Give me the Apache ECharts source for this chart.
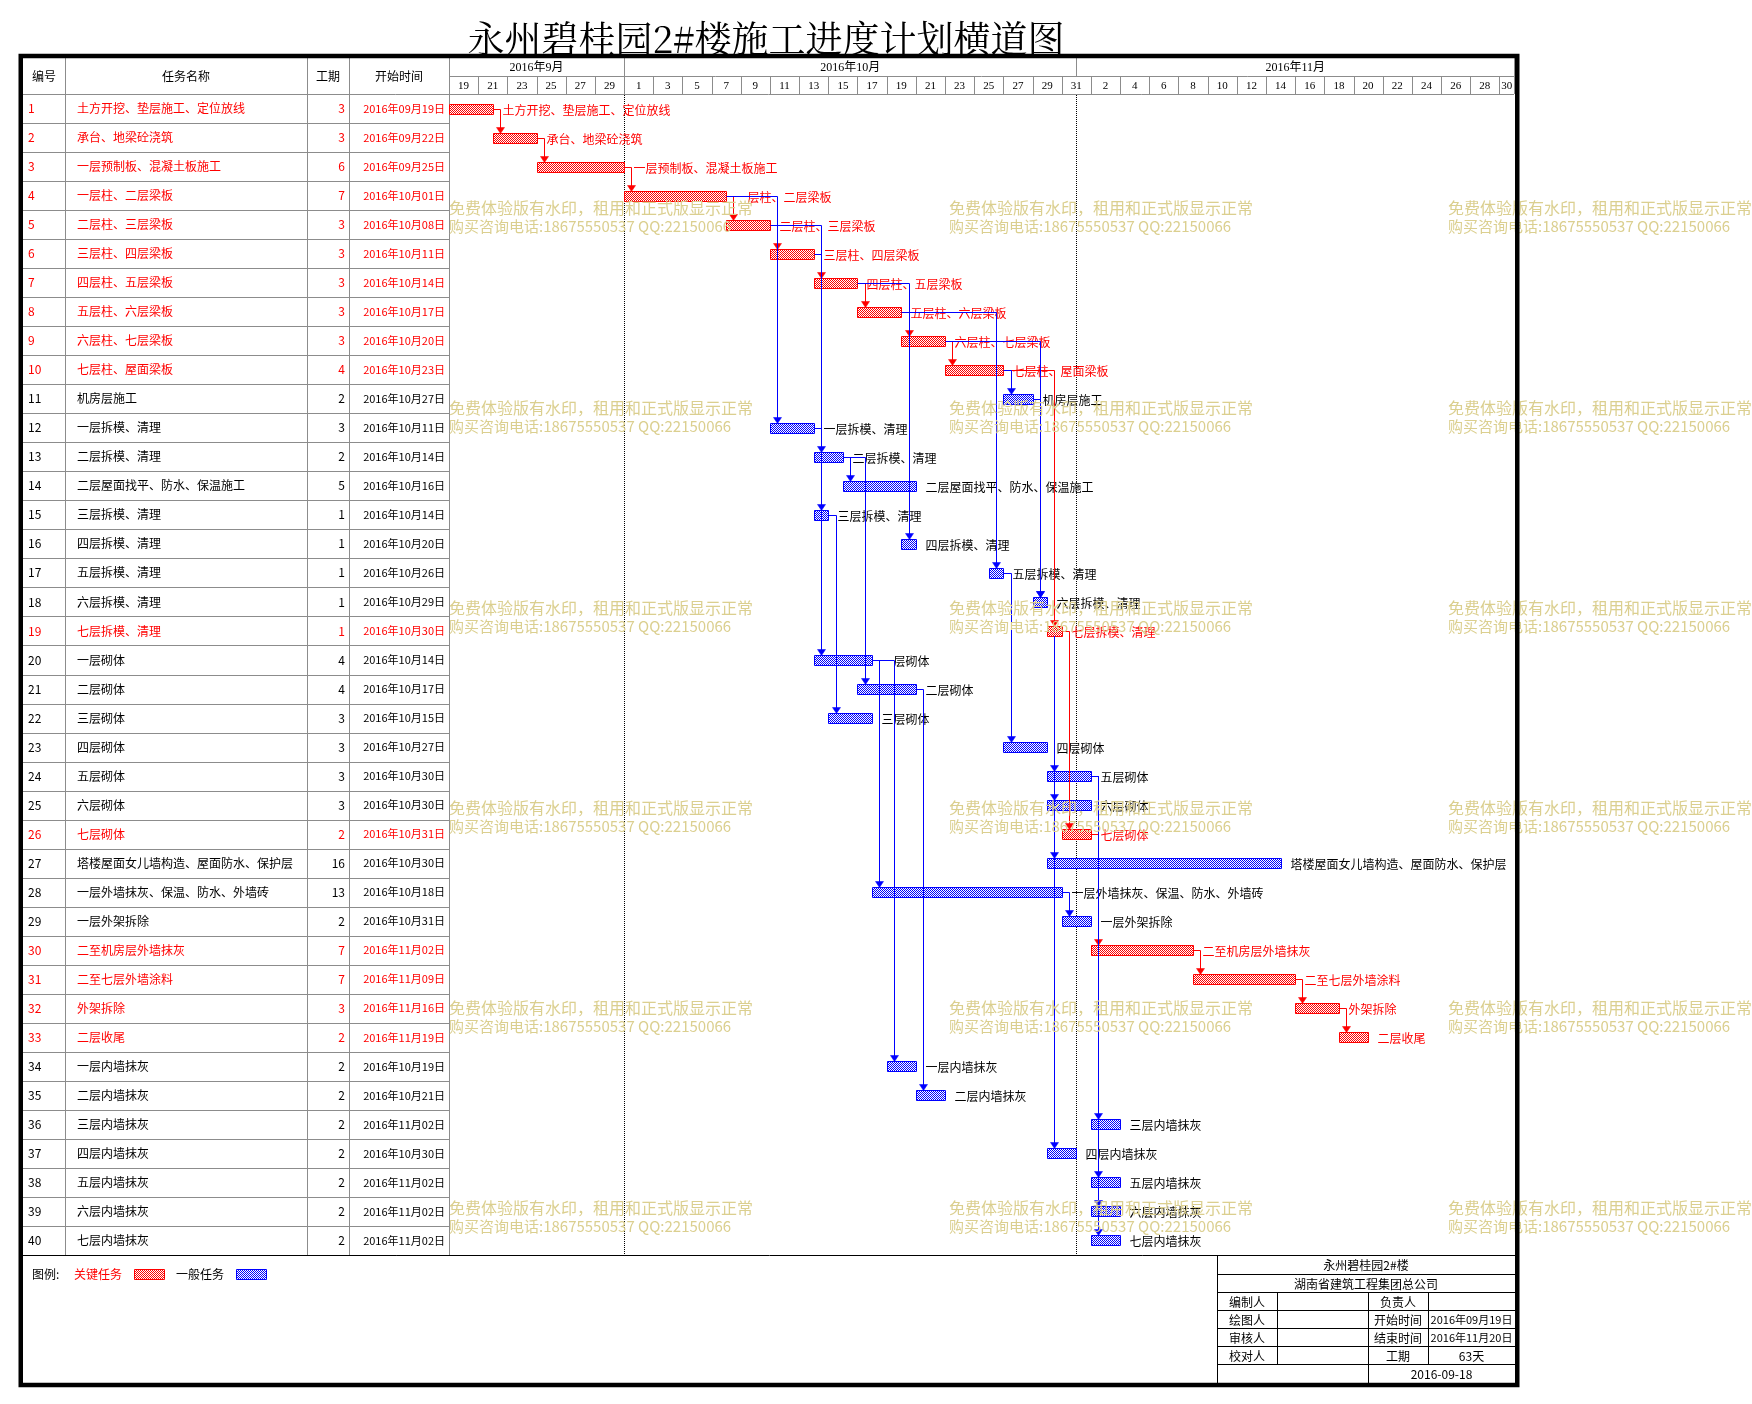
<!DOCTYPE html>
<html><head><meta charset="utf-8">
<script src="https://cdn.jsdelivr.net/npm/echarts@6/dist/echarts.min.js"></script>
<style>html,body{margin:0;padding:0;background:#fff}#c{width:1752px;height:1404px}</style>
</head><body><div id="c"></div>
<script>
// ---------------- DATA ----------------
const chartTitle = '永州碧桂园2#楼施工进度计划横道图';
const headerNames = ['编号', '任务名称', '工期', '开始时间'];
const taskNames = [
  '土方开挖、垫层施工、定位放线', '承台、地梁砼浇筑', '一层预制板、混凝土板施工', '一层柱、二层梁板',
  '二层柱、三层梁板', '三层柱、四层梁板', '四层柱、五层梁板', '五层柱、六层梁板', '六层柱、七层梁板',
  '七层柱、屋面梁板', '机房层施工', '一层拆模、清理', '二层拆模、清理', '二层屋面找平、防水、保温施工',
  '三层拆模、清理', '四层拆模、清理', '五层拆模、清理', '六层拆模、清理', '七层拆模、清理',
  '一层砌体', '二层砌体', '三层砌体', '四层砌体', '五层砌体', '六层砌体', '七层砌体',
  '塔楼屋面女儿墙构造、屋面防水、保护层', '一层外墙抹灰、保温、防水、外墙砖', '一层外架拆除',
  '二至机房层外墙抹灰', '二至七层外墙涂料', '外架拆除', '二层收尾',
  '一层内墙抹灰', '二层内墙抹灰', '三层内墙抹灰', '四层内墙抹灰', '五层内墙抹灰', '六层内墙抹灰', '七层内墙抹灰'
];
const durations = [3,3,6,7,3,3,3,3,3,4,2,3,2,5,1,1,1,1,1,4,4,3,3,3,3,2,16,13,2,7,7,3,2,2,2,2,2,2,2,2];
const startDates = [
  '2016年09月19日','2016年09月22日','2016年09月25日','2016年10月01日','2016年10月08日','2016年10月11日',
  '2016年10月14日','2016年10月17日','2016年10月20日','2016年10月23日','2016年10月27日','2016年10月11日',
  '2016年10月14日','2016年10月16日','2016年10月14日','2016年10月20日','2016年10月26日','2016年10月29日',
  '2016年10月30日','2016年10月14日','2016年10月17日','2016年10月15日','2016年10月27日','2016年10月30日',
  '2016年10月30日','2016年10月31日','2016年10月30日','2016年10月18日','2016年10月31日','2016年11月02日',
  '2016年11月09日','2016年11月16日','2016年11月19日','2016年10月19日','2016年10月21日','2016年11月02日',
  '2016年10月30日','2016年11月02日','2016年11月02日','2016年11月02日'
];
const critical = [1,1,1,1,1,1,1,1,1,1,0,0,0,0,0,0,0,0,1,0,0,0,0,0,0,1,0,0,0,1,1,1,1,0,0,0,0,0,0,0];
const links = [
  [1,2],[2,3],[3,4],[4,5],[5,6],[6,7],[7,8],[8,9],[9,10],[10,19],[19,26],[26,30],[30,31],[31,32],[32,33],
  [4,12],[5,13],[6,15],[12,20],[7,16],[8,17],[9,18],[10,11],[11,18],[13,14],[13,21],[15,22],[17,23],
  [19,24],[19,25],[19,27],[19,37],[20,28],[20,34],[21,35],[28,29],[24,36],[24,38],[24,39],[24,40]
];
const monthNames = ['2016年9月', '2016年10月', '2016年11月'];
const monthDays = [12, 31, 30];
const dayTickLabels = ['19','21','23','25','27','29','1','3','5','7','9','11','13','15','17','19','21','23',
  '25','27','29','31','2','4','6','8','10','12','14','16','18','20','22','24','26','28','30'];
const legendNames = ['关键任务', '一般任务'];
const infoProject = '永州碧桂园2#楼';
const infoCompany = '湖南省建筑工程集团总公司';
const infoRows = [
  ['编制人', '', '负责人', ''],
  ['绘图人', '', '开始时间', '2016年09月19日'],
  ['审核人', '', '结束时间', '2016年11月20日'],
  ['校对人', '', '工期', '63天']
];
const infoDate = '2016-09-18';
const watermarkLines = ['免费体验版有水印，租用和正式版显示正常', '购买咨询电话:18675550537 QQ:22150066'];

// ---------------- HELPERS ----------------
const F = '"Noto Sans CJK SC", sans-serif';
const FS = '"Liberation Serif", "Noto Sans CJK SC", serif';
const RED = '#ff0000', BLUE = '#0000ff', GRAY = '#8c8c8c';
const totalDays = monthDays.reduce((a, b) => a + b, 0);
const monthEdges = [0]; monthDays.forEach(d => monthEdges.push(monthEdges[monthEdges.length - 1] + d));
function dayOffset(s) {
  const m = s.match(/(\d+)年(\d+)月(\d+)日/);
  return Math.round((Date.UTC(+m[1], +m[2] - 1, +m[3]) - Date.UTC(2016, 8, 19)) / 864e5);
}
const starts = startDates.map(dayOffset);
function makePattern(color) {
  const c = document.createElement('canvas'); c.width = 2; c.height = 2;
  const g = c.getContext('2d');
  g.fillStyle = '#ffffff'; g.fillRect(0, 0, 2, 2);
  g.fillStyle = color; g.fillRect(0, 0, 1, 1); g.fillRect(1, 1, 1, 1);
  return { image: c, repeat: 'repeat' };
}
const patR = makePattern(RED), patB = makePattern(BLUE);
function txt(text, x, y, size, color, align, family, weight, z) {
  return { type: 'text', z: z || 100, silent: true, style: { text, x, y, fill: color, fontSize: size, fontFamily: family || F,
    fontWeight: weight || 'normal', align: align || 'left', textAlign: align || 'left', verticalAlign: 'middle', textVerticalAlign: 'middle' } };
}
function ln(x1, y1, x2, y2, color, w, z) {
  return { type: 'line', z: z || 100, silent: true, shape: { x1, y1, x2, y2 }, style: { stroke: color, lineWidth: w || 1 } };
}

// ---------------- LAYOUT ----------------
const colX = [23, 65, 307, 349, 449];
const ganttR = 1514;
const headTop = 58, headMid = 76, headBot = 94, rowsBot = 1255;

// ---------------- STATIC GRAPHICS ----------------
const G = [];
// watermark (under everything)
const wmX = [449, 949, 1448];
for (let r = 0; r < 6; r++) {
  for (const x of wmX) {
    G.push(txt(watermarkLines[0], x, 208 + r * 200, 16, '#dbcf8f', 'left', F, 'normal', 0));
    G.push(txt(watermarkLines[1], x, 226 + r * 200, 15, '#dbcf8f', 'left', F, 'normal', 0));
  }
}
// title
G.push(txt(chartTitle, 766, 39, 37, '#000', 'center', '"Noto Serif CJK SC", "Noto Sans CJK SC", serif'));
// table header
for (let k = 0; k < 4; k++) {
  G.push(txt(headerNames[k], (colX[k] + colX[k + 1]) / 2, 76, 12, '#000', 'center'));
  G.push(ln(colX[k + 1] + 0.5, headTop, colX[k + 1] + 0.5, headBot, GRAY));
}
G.push(ln(colX[0], headBot + 0.5, ganttR, headBot + 0.5, GRAY));
G.push(ln(colX[4], headMid + 0.5, ganttR, headMid + 0.5, GRAY));
// bottom line of the task rows
G.push(ln(colX[0], rowsBot + 0.5, 1516, rowsBot + 0.5, '#000'));
// legend
G.push(txt('图例:', 32, 1274, 12, '#000'));
G.push(txt(legendNames[0], 74, 1274, 12, RED));
G.push({ type: 'rect', z: 100, silent: true, shape: { x: 134.5, y: 1269.5, width: 30, height: 10 }, style: { fill: patR, stroke: RED, lineWidth: 1 } });
G.push(txt(legendNames[1], 176, 1274, 12, '#000'));
G.push({ type: 'rect', z: 100, silent: true, shape: { x: 236.5, y: 1269.5, width: 30, height: 10 }, style: { fill: patB, stroke: BLUE, lineWidth: 1 } });
// info table
const ix = [1217, 1277, 1368, 1428, 1515];
const iy = [1255, 1274, 1292, 1310, 1328, 1346, 1364, 1383];
for (let k = 1; k < iy.length - 1; k++) G.push(ln(ix[0], iy[k] + 0.5, ix[4], iy[k] + 0.5, '#000'));
G.push(ln(ix[0] + 0.5, iy[0], ix[0] + 0.5, iy[7], '#000'));
G.push(ln(ix[2] + 0.5, iy[2], ix[2] + 0.5, iy[7], '#000'));
G.push(ln(ix[1] + 0.5, iy[2], ix[1] + 0.5, iy[6], '#000'));
G.push(ln(ix[3] + 0.5, iy[2], ix[3] + 0.5, iy[6], '#000'));
G.push(txt(infoProject, (ix[0] + ix[4]) / 2, (iy[0] + iy[1]) / 2 + 1, 12, '#000', 'center'));
G.push(txt(infoCompany, (ix[0] + ix[4]) / 2, (iy[1] + iy[2]) / 2 + 1, 12, '#000', 'center'));
infoRows.forEach((row, r) => {
  const yc = (iy[r + 2] + iy[r + 3]) / 2 + 1;
  row.forEach((t, c) => {
    if (!t) return;
    const fs = /\d{4}年/.test(t) ? 11 : 12;
    G.push(txt(t, (ix[c] + ix[c + 1]) / 2, yc, fs, '#000', 'center'));
  });
});
G.push(txt(infoDate, (ix[2] + ix[4]) / 2, (iy[6] + iy[7]) / 2 + 1, 12, '#000', 'center'));
// outer border
G.push({ type: 'rect', z: 110, silent: true, shape: { x: 20.75, y: 56, width: 1496.5, height: 1329 }, style: { fill: 'none', stroke: '#000', lineWidth: 4.5 } });

// ---------------- SERIES ----------------
function renderTable(params, api) {
  const i = api.value(1);
  const c = api.coord([0, i]);
  const h = api.size([0, 1])[1];
  const bot = Math.round(c[1] + h / 2) + 0.5, top = Math.round(c[1] - h / 2);
  const yc = c[1];
  const col = critical[i] ? RED : '#000';
  const ch = [ln(colX[0], bot, colX[4], bot, GRAY, 1, 2)];
  for (let k = 1; k <= 4; k++) ch.push(ln(colX[k] + 0.5, top, colX[k] + 0.5, bot, GRAY, 1, 2));
  ch.push(txt(String(i + 1), colX[0] + 5, yc, 12, col, 'left', F, 'normal', 2));
  ch.push(txt(taskNames[i], colX[1] + 12, yc, 12, col, 'left', F, 'normal', 2));
  ch.push(txt(String(durations[i]), colX[3] - 4, yc, 12, col, 'right', F, 'normal', 2));
  ch.push(txt(startDates[i], colX[4] - 4, yc, 11, col, 'right', F, 'normal', 2));
  return { type: 'group', children: ch };
}
function renderHeaderCell(row) {
  return function (params, api) {
    const s = api.value(0), e = api.value(1), k = api.value(2);
    const p0 = api.coord([s, row]), p1 = api.coord([e, row + 1]);
    const x0 = Math.round(p0[0]) + 0.5, x1 = Math.round(p1[0]) + 0.5;
    const label = row === 0 ? monthNames[k] : dayTickLabels[k];
    return { type: 'group', children: [
      ln(x0, p0[1], x0, p1[1], GRAY, 1, 2), ln(x1, p0[1], x1, p1[1], GRAY, 1, 2),
      txt(label, (p0[0] + p1[0]) / 2, (p0[1] + p1[1]) / 2 + 1, row === 0 ? 12 : 11, '#000', 'center', FS, 'normal', 2)
    ] };
  };
}
function renderMonthLine(params, api) {
  const x = Math.round(api.coord([api.value(0), 0])[0]) + 0.5;
  const cs = params.coordSys;
  return { type: 'line', shape: { x1: x, y1: cs.y + 1, x2: x, y2: cs.y + cs.height }, style: { stroke: '#000', lineWidth: 1, lineDash: [1, 1] } };
}
function renderBar(params, api) {
  const s = api.value(0), i = api.value(1), d = api.value(2);
  const p0 = api.coord([s, i]), p1 = api.coord([s + d, i]);
  const red = critical[i];
  const x0 = Math.round(p0[0]) + 0.5, x1 = Math.round(p1[0]) + 0.5, yc = Math.round(p0[1]);
  return { type: 'group', children: [
    { type: 'rect', shape: { x: x0, y: yc - 4.5, width: x1 - x0, height: 10 }, style: { fill: red ? patR : patB, stroke: red ? RED : BLUE, lineWidth: 1 } },
    txt(taskNames[i], x1 + 9, yc + 1, 12, red ? RED : '#000', 'left', F, 'normal', 2)
  ] };
}
function renderLink(params, api) {
  const pe = api.value(0), pi = api.value(1), sd = api.value(2), si = api.value(3), red = api.value(4);
  const a = api.coord([pe, pi]), b = api.coord([sd, si]);
  const col = red ? RED : BLUE;
  const x0 = Math.round(a[0]) + 0.5, yp = Math.round(a[1]) + 0.5;
  const xd = Math.round(b[0]) + 0.5, ys = Math.round(b[1]) - 4.5;
  const pts = xd >= x0 ? [[x0, yp], [xd, yp], [xd, ys - 5]] : [[xd, Math.round(a[1]) + 5.5], [xd, ys - 5]];
  return { type: 'group', children: [
    { type: 'polyline', shape: { points: pts }, style: { stroke: col, lineWidth: 1, fill: null } },
    { type: 'polygon', shape: { points: [[xd - 4, ys - 6], [xd + 4, ys - 6], [xd, ys]] }, style: { fill: col, stroke: col, lineWidth: 0.5 } }
  ] };
}
function linkData(wantRed) {
  const out = [];
  links.forEach(([p, s]) => {
    const red = critical[p - 1] && critical[s - 1] ? 1 : 0;
    if (red !== wantRed) return;
    out.push([starts[p - 1] + durations[p - 1], p - 1, starts[s - 1] + 0.5, s - 1, red]);
  });
  return out;
}

const chart = echarts.init(document.getElementById('c'), null, { renderer: 'canvas' });
chart.setOption({
  animation: false,
  backgroundColor: '#ffffff',
  grid: [
    { left: colX[4], top: headBot, width: ganttR - colX[4], height: rowsBot - headBot },
    { left: colX[4], top: headTop, width: ganttR - colX[4], height: headBot - headTop }
  ],
  xAxis: [
    { gridIndex: 0, type: 'value', min: 0, max: totalDays, show: false },
    { gridIndex: 1, type: 'value', min: 0, max: totalDays, show: false }
  ],
  yAxis: [
    { gridIndex: 0, type: 'category', data: taskNames, inverse: true, show: false },
    { gridIndex: 1, type: 'value', min: 0, max: 2, inverse: true, show: false }
  ],
  graphic: { elements: G },
  series: [
    { type: 'custom', silent: true, z: 2, xAxisIndex: 0, yAxisIndex: 0, renderItem: renderTable,
      data: taskNames.map((n, i) => [0, i]) },
    { type: 'custom', silent: true, z: 2, xAxisIndex: 1, yAxisIndex: 1, renderItem: renderHeaderCell(0),
      data: monthNames.map((n, k) => [monthEdges[k], monthEdges[k + 1], k]) },
    { type: 'custom', silent: true, z: 2, xAxisIndex: 1, yAxisIndex: 1, renderItem: renderHeaderCell(1),
      data: dayTickLabels.map((t, k) => [2 * k, Math.min(2 * k + 2, totalDays), k]) },
    { type: 'custom', silent: true, z: 2, xAxisIndex: 0, yAxisIndex: 0, renderItem: renderMonthLine,
      data: monthEdges.slice(1, -1).map(v => [v, 0]) },
    { type: 'custom', silent: true, z: 3, xAxisIndex: 0, yAxisIndex: 0, renderItem: renderBar,
      data: taskNames.map((n, i) => [starts[i], i, durations[i]]) },
    { type: 'custom', silent: true, z: 4, xAxisIndex: 0, yAxisIndex: 0, renderItem: renderLink, data: linkData(1) },
    { type: 'custom', silent: true, z: 5, xAxisIndex: 0, yAxisIndex: 0, renderItem: renderLink, data: linkData(0) }
  ]
});
</script></body></html>
